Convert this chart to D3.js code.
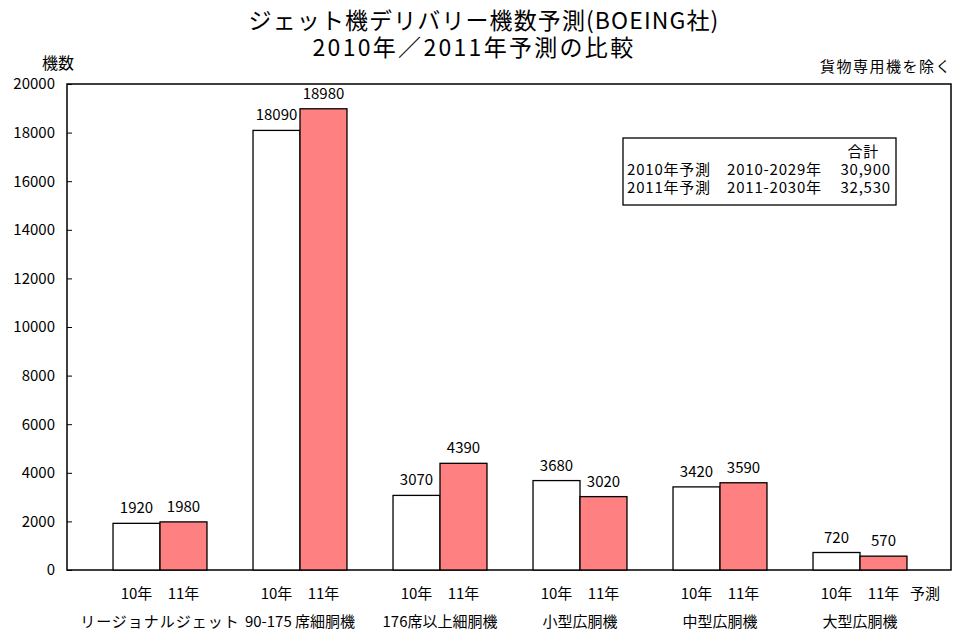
<!DOCTYPE html>
<html>
<head>
<meta charset="utf-8">
<script src="https://cdn.jsdelivr.net/npm/d3@7"></script>
<style>
  body { margin: 0; background: #fff; }
  text { font-family: "Noto Sans CJK JP", sans-serif; fill: #000; }
</style>
</head>
<body>
<div id="chart"></div>
<script>
// data
var categories = ["リージョナルジェット", "90-175 席細胴機", "176席以上細胴機", "小型広胴機", "中型広胴機", "大型広胴機"];
var seriesNames = ["10年", "11年"];
var forecast2010 = [1920, 18090, 3070, 3680, 3420, 720];
var forecast2011 = [1980, 18980, 4390, 3020, 3590, 570];
var yTicks = [0, 2000, 4000, 6000, 8000, 10000, 12000, 14000, 16000, 18000, 20000];
var legendRows = [
  ["", "", "合計"],
  ["2010年予測", "2010-2029年", "30,900"],
  ["2011年予測", "2011-2030年", "32,530"]
];

var width = 954, height = 630;
var plot = { left: 67, right: 951, top: 84, bottom: 570 };
var colors = ["#ffffff", "#ff8080"];

var svg = d3.select("#chart").append("svg")
  .attr("width", width)
  .attr("height", height);

var x0 = d3.scaleBand()
  .domain(categories)
  .range([90, 930]);

var x1 = d3.scaleBand()
  .domain(seriesNames)
  .range([0, x0.bandwidth()])
  .paddingOuter(0.49);

var y = d3.scaleLinear()
  .domain([0, 20000])
  .range([plot.bottom, plot.top]);

// title
svg.append("text")
  .attr("x", 484).attr("y", 29)
  .attr("text-anchor", "middle")
  .style("font-size", "23px")
  .style("letter-spacing", "1.1px")
  .text("ジェット機デリバリー機数予測(BOEING社)");
svg.append("text")
  .attr("x", 474).attr("y", 56)
  .attr("text-anchor", "middle")
  .style("font-size", "23px")
  .style("letter-spacing", "2.3px")
  .text("2010年／2011年予測の比較");

svg.append("text")
  .attr("x", 58).attr("y", 69)
  .attr("text-anchor", "middle")
  .style("font-size", "16px")
  .text("機数");

svg.append("text")
  .attr("x", 952).attr("y", 72)
  .attr("text-anchor", "end")
  .style("font-size", "15px")
  .style("letter-spacing", "1.5px")
  .text("貨物専用機を除く");

// frame
svg.append("rect")
  .attr("x", plot.left).attr("y", plot.top)
  .attr("width", plot.right - plot.left)
  .attr("height", plot.bottom - plot.top)
  .attr("fill", "none")
  .attr("stroke", "#000")
  .attr("stroke-width", 1.5);

// y axis, ticks point inward
var yAxis = svg.append("g")
  .attr("transform", "translate(" + plot.left + ",0)")
  .call(d3.axisLeft(y).tickValues(yTicks).tickFormat(d3.format("d")).tickSize(-5).tickPadding(12));
yAxis.select(".domain").remove();
yAxis.selectAll("line").attr("stroke", "#000");
yAxis.selectAll("text")
  .style("font-size", "15px")
  .style("font-family", "'Noto Sans CJK JP', sans-serif");

// bars
var groups = svg.selectAll(".grp")
  .data(categories)
  .enter().append("g")
  .attr("class", "grp")
  .attr("transform", function (d) { return "translate(" + x0(d) + ",0)"; });

var values = [forecast2010, forecast2011];

groups.selectAll("rect")
  .data(function (d, i) {
    return seriesNames.map(function (s, j) { return { s: s, v: values[j][i], j: j }; });
  })
  .enter().append("rect")
  .attr("x", function (d) { return x1(d.s); })
  .attr("y", function (d) { return y(d.v); })
  .attr("width", x1.bandwidth())
  .attr("height", function (d) { return plot.bottom - y(d.v); })
  .attr("fill", function (d) { return colors[d.j]; })
  .attr("stroke", "#000")
  .attr("stroke-width", 1.3);

groups.selectAll(".val")
  .data(function (d, i) {
    return seriesNames.map(function (s, j) { return { s: s, v: values[j][i] }; });
  })
  .enter().append("text")
  .attr("class", "val")
  .attr("x", function (d) { return x1(d.s) + x1.bandwidth() / 2; })
  .attr("y", function (d) { return y(d.v) - 10; })
  .attr("text-anchor", "middle")
  .style("font-size", "15px")
  .text(function (d) { return d.v; });

// series labels under each pair
groups.selectAll(".ser")
  .data(seriesNames)
  .enter().append("text")
  .attr("class", "ser")
  .attr("x", function (d) { return x1(d) + x1.bandwidth() / 2; })
  .attr("y", 599)
  .attr("text-anchor", "middle")
  .style("font-size", "15px")
  .text(function (d) { return d; });

groups.append("text")
  .attr("x", x0.bandwidth() / 2)
  .attr("y", 627)
  .attr("text-anchor", "middle")
  .style("font-size", "15px")
  .style("letter-spacing", function (d, i) { return i === 0 ? "1px" : "0px"; })
  .text(function (d) { return d; });

svg.append("text")
  .attr("x", 925).attr("y", 599)
  .attr("text-anchor", "middle")
  .style("font-size", "15px")
  .text("予測");

// summary box
var box = svg.append("g").attr("transform", "translate(623,138)");
box.append("rect")
  .attr("width", 273).attr("height", 67)
  .attr("fill", "#fff")
  .attr("stroke", "#000")
  .attr("stroke-width", 1.3);
var colX = [4, 104, 268];
var colAnchor = ["start", "start", "end"];
legendRows.forEach(function (row, r) {
  row.forEach(function (cell, c) {
    box.append("text")
      .attr("x", c === 2 && r === 0 ? 256 : colX[c])
      .attr("y", 19 + r * 18)
      .attr("text-anchor", colAnchor[c])
      .style("font-size", "15px")
      .style("letter-spacing", "0.8px")
      .text(cell);
  });
});
</script>
</body>
</html>
